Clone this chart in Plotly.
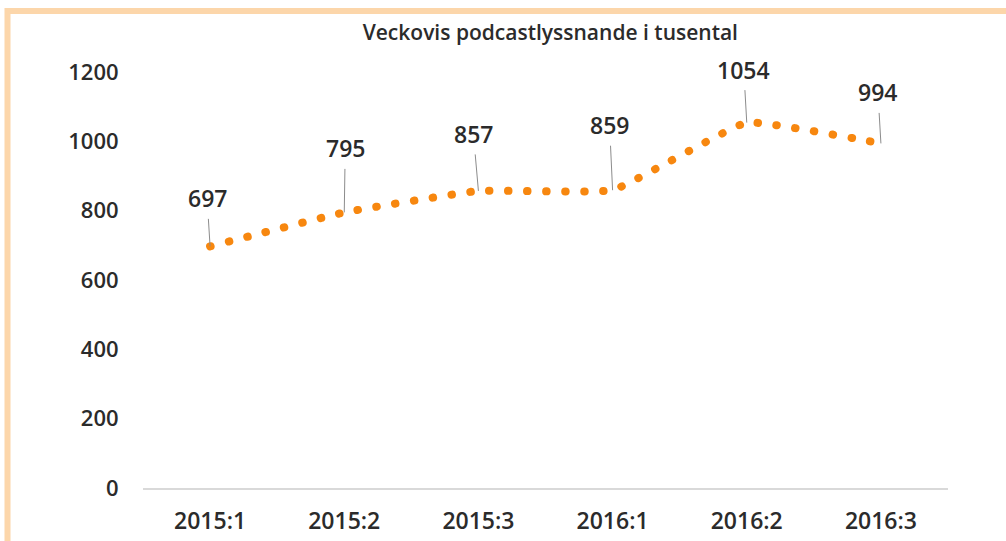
import plotly.graph_objects as go

categories = ["2015:1", "2015:2", "2015:3", "2016:1", "2016:2", "2016:3"]
values = [697, 795, 857, 859, 1054, 994]
label_dx = [-3, 1, -5, -3, -3, -3]
label_dy = [-48, -64, -57, -65, -53, -51]
y_ticks = [0, 200, 400, 600, 800, 1000, 1200]
title_text = "Veckovis podcastlyssnande i tusental"

ORANGE = "#F7870F"
PEACH = "#FCD6AA"
TEXT = "#2b2b2b"
FONT = "Open Sans"

W, H = 1006, 541
ML, MR, MT, MB = 143, 58, 72, 53
PW, PH = W - ML - MR, H - MT - MB


def px_x(px):
    return (px - ML) / PW


def px_y(py):
    return (H - MB - py) / PH


fig = go.Figure()
fig.add_trace(go.Scatter(
    x=categories, y=values, mode="lines",
    line=dict(color=ORANGE, width=8, shape="spline", smoothing=0.3, dash="1px,18px"),
    hoverinfo="x+y", showlegend=False,
))

for c, v, dx, dy in zip(categories, values, label_dx, label_dy):
    fig.add_annotation(
        x=c, y=v, text=str(v), showarrow=True, arrowhead=0, arrowwidth=1,
        arrowcolor="#8c8c8c", ax=dx, ay=dy, standoff=0, borderpad=4,
        font=dict(family=FONT, size=23, color=TEXT, weight=600),
    )

# chart frame (top and left edges are visible)
fig.add_shape(type="line", xref="paper", yref="paper",
              x0=px_x(7.5), x1=px_x(1006), y0=px_y(11), y1=px_y(11),
              line=dict(color=PEACH, width=6), layer="below")
fig.add_shape(type="line", xref="paper", yref="paper",
              x0=px_x(7.5), x1=px_x(7.5), y0=px_y(8), y1=px_y(541),
              line=dict(color=PEACH, width=6), layer="below")

fig.update_layout(
    width=W, height=H,
    margin=dict(l=ML, r=MR, t=MT, b=MB, autoexpand=False),
    paper_bgcolor="white", plot_bgcolor="white",
    title=dict(text=title_text, x=0.506, xanchor="center", xref="paper", y=1 - 33 / H,
               yanchor="middle", font=dict(family=FONT, size=21, color=TEXT, weight=600)),
    xaxis=dict(
        type="category", range=[-0.5, len(categories) - 0.5], automargin=False,
        showline=True, linecolor="#d9d9d9", linewidth=1.5, showgrid=False, zeroline=False,
        ticks="outside", ticklen=12, tickcolor="rgba(0,0,0,0)",
        tickfont=dict(family=FONT, size=23, color=TEXT, weight=600),
    ),
    yaxis=dict(
        range=[0, 1200], tickvals=y_ticks, automargin=False,
        showgrid=False, zeroline=False, showline=False,
        ticks="outside", ticklen=19, tickcolor="rgba(0,0,0,0)",
        tickfont=dict(family=FONT, size=22, color=TEXT, weight=600),
    ),
)

post = """
document.body.style.margin = '0';
document.body.style.overflow = 'hidden';
var gd = document.getElementById('{plot_id}');
gd.querySelectorAll('.scatterlayer .js-line').forEach(function(p){
  p.style.strokeLinecap = 'round';
  p.style.strokeDasharray = '0.5px,18.5px';
});
"""

fig.write_html("out.html", post_script=post, config={"displayModeBar": False})
